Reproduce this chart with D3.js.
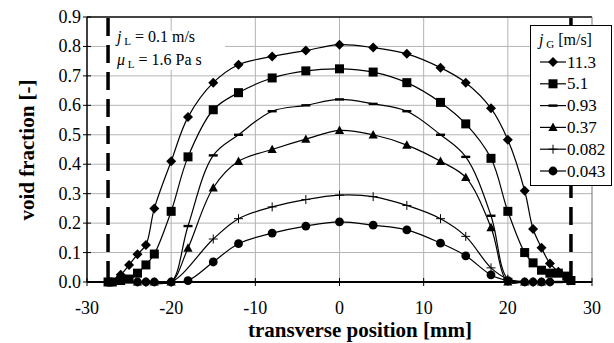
<!DOCTYPE html>
<html>
<head>
<meta charset="utf-8">
<script src="https://cdn.jsdelivr.net/npm/d3@7"></script>
<style>
  body { margin: 0; background: #fff; }
  svg text { font-family: "Liberation Serif", "Times New Roman", serif; fill: #000; }
</style>
</head>
<body>
<div id="chart"></div>
<script>
// gas superficial velocity series (legend labels)
var jG = ["11.3", "5.1", "0.93", "0.37", "0.082", "0.043"];

var posD = [-27.5, -26, -25, -24, -23, -22, -20, -18, -15, -12, -8, -4, 0, 4, 8, 12, 15, 18, 20, 22, 23, 24, 25, 26, 27.2];
var valD = [0, 0.025, 0.058, 0.094, 0.126, 0.25, 0.41, 0.56, 0.677, 0.738, 0.766, 0.786, 0.806, 0.796, 0.775, 0.728, 0.677, 0.59, 0.483, 0.31, 0.18, 0.116, 0.063, 0.035, 0.005];

var posS = [-27.5, -27, -26, -25, -24, -23, -22, -20, -18, -15, -12, -8, -4, 0, 4, 8, 12, 15, 18, 20, 22, 23, 24, 25, 26, 27, 27.5];
var valS = [0, 0, 0.005, 0.01, 0.03, 0.058, 0.095, 0.24, 0.425, 0.585, 0.643, 0.693, 0.717, 0.724, 0.713, 0.677, 0.61, 0.537, 0.42, 0.24, 0.10, 0.065, 0.04, 0.03, 0.03, 0.02, 0.005];

var posM = [-27, -25, -23, -22, -20, -18, -15, -12, -8, -4, 0, 4, 8, 12, 15, 18, 20, 22, 24, 26];
var valM = [0, 0, 0, 0, 0, 0.19, 0.43, 0.50, 0.58, 0.60, 0.62, 0.605, 0.58, 0.50, 0.425, 0.225, 0.01, 0, 0, 0];

var posT = [-24, -22, -20, -18, -15, -12, -8, -4, 0, 4, 8, 12, 15, 18, 20, 22, 24];
var valT = [0, 0, 0, 0.115, 0.32, 0.41, 0.45, 0.485, 0.515, 0.50, 0.465, 0.41, 0.355, 0.185, 0, 0, 0];

var posP = [-23, -20, -15, -12, -8, -4, 0, 4, 8, 12, 15, 18, 20, 23];
var valP = [0, 0, 0.146, 0.215, 0.255, 0.28, 0.295, 0.29, 0.26, 0.215, 0.155, 0.048, 0.01, 0];

var posC = [-24, -23, -22, -20, -18, -15, -12, -8, -4, 0, 4, 8, 12, 15, 18, 20, 22, 23, 24, 25];
var valC = [0, 0, 0, 0, 0.005, 0.068, 0.13, 0.166, 0.19, 0.204, 0.193, 0.177, 0.132, 0.089, 0.024, 0.005, 0, 0, 0, 0];

var xTicks = [-30, -20, -10, 0, 10, 20, 30];
var xTickLabels = ["-30", "-20", "-10", "0", "10", "20", "30"];
var yTicks = [0, 0.1, 0.2, 0.3, 0.4, 0.5, 0.6, 0.7, 0.8, 0.9];
var yTickLabels = ["0.0", "0.1", "0.2", "0.3", "0.4", "0.5", "0.6", "0.7", "0.8", "0.9"];
var wallPos = [-27.5, 27.5];

var W = 614, H = 343;
var svg = d3.select("#chart").append("svg")
    .attr("width", W)
    .attr("height", H)

var x = d3.scaleLinear().domain([-30, 30]).range([87, 592]);
var y = d3.scaleLinear().domain([0, 0.9]).range([282, 17]);

// grid
svg.selectAll(".hgrid")
    .data(yTicks.slice(1))
    .enter().append("line")
    .attr("x1", x(-30)).attr("x2", x(30))
    .attr("y1", d => y(d)).attr("y2", d => y(d))
    .style("stroke", "#b4b4b4").style("stroke-width", 1)

svg.selectAll(".vgrid")
    .data(xTicks.slice(1, -1))
    .enter().append("line")
    .attr("x1", d => x(d)).attr("x2", d => x(d))
    .attr("y1", y(0)).attr("y2", y(0.9))
    .style("stroke", "#b4b4b4").style("stroke-width", 1)

// frame top / right
svg.append("line").attr("x1", x(-30)).attr("x2", x(30)).attr("y1", y(0.9)).attr("y2", y(0.9))
    .style("stroke", "#444").style("stroke-width", 2)
svg.append("line").attr("x1", x(30)).attr("x2", x(30)).attr("y1", y(0.9)).attr("y2", y(0))
    .style("stroke", "#777").style("stroke-width", 1)

// white box behind the annotation
svg.append("rect").attr("x", x(-27.5) + 2).attr("y", 31).attr("width", 115).attr("height", 39)
    .style("fill", "#fff")

// pipe walls
svg.selectAll(".wall")
    .data(wallPos)
    .enter().append("line")
    .attr("x1", d => x(d)).attr("x2", d => x(d))
    .attr("y1", y(0.9) + 1).attr("y2", y(0))
    .style("stroke", "#000").style("stroke-width", 3.5)
    .style("stroke-dasharray", "18,9")

// tick labels
svg.selectAll(".xl").data(xTicks).enter().append("text")
    .attr("x", d => x(d)).attr("y", y(0) + 32)
    .attr("text-anchor", "middle")
    .style("font-size", "18px")
    .text((d, i) => xTickLabels[i])

svg.selectAll(".yl").data(yTicks).enter().append("text")
    .attr("x", x(-30) - 6).attr("y", d => y(d) + 6)
    .attr("text-anchor", "end")
    .style("font-size", "18px")
    .text((d, i) => yTickLabels[i])

// crossing ticks
svg.selectAll(".xt").data(xTicks).enter().append("line")
    .attr("x1", d => x(d)).attr("x2", d => x(d))
    .attr("y1", y(0) - 4).attr("y2", y(0) + 4)
    .style("stroke", "#000").style("stroke-width", 1)
svg.selectAll(".yt").data(yTicks).enter().append("line")
    .attr("x1", x(-30) - 4).attr("x2", x(-30) + 4)
    .attr("y1", d => y(d)).attr("y2", d => y(d))
    .style("stroke", "#000").style("stroke-width", 1)

svg.append("line").attr("x1", x(-30)).attr("x2", x(-30)).attr("y1", y(0.9)).attr("y2", y(0))
    .style("stroke", "#000").style("stroke-width", 1.5)

// markers
function marker(g, type) {
    if (type === "diamond") {
        g.append("path").attr("d", "M0,-5L5,0L0,5L-5,0Z").style("fill", "#000")
    } else if (type === "square") {
        g.append("rect").attr("x", -4.5).attr("y", -4.5).attr("width", 9).attr("height", 9).style("fill", "#000")
    } else if (type === "dash") {
        g.append("rect").attr("x", -4.5).attr("y", -1.2).attr("width", 9).attr("height", 2.4).style("fill", "#000")
    } else if (type === "triangle") {
        g.append("path").attr("d", "M0,-4.8L4.6,3.6L-4.6,3.6Z").style("fill", "#000")
    } else if (type === "plus") {
        g.append("path").attr("d", "M-4.5,0H4.5M0,-4.5V4.5").style("stroke", "#000").style("stroke-width", 1).style("fill", "none")
    } else {
        g.append("circle").attr("r", 4.4).style("fill", "#000")
    }
}

var series = [
    { name: jG[0], m: "diamond", xs: posD, vs: valD },
    { name: jG[1], m: "square", xs: posS, vs: valS },
    { name: jG[2], m: "dash", xs: posM, vs: valM },
    { name: jG[3], m: "triangle", xs: posT, vs: valT },
    { name: jG[4], m: "plus", xs: posP, vs: valP },
    { name: jG[5], m: "circle", xs: posC, vs: valC }
];

var line = d3.line()
    .x(d => x(d[0]))
    .y(d => y(d[1]))
    .curve(d3.curveCatmullRom.alpha(0.5));

series.forEach(function (s) {
    var pts = s.xs.map((v, i) => [v, s.vs[i]]);
    svg.append("path")
        .datum(pts)
        .attr("d", line)
        .style("fill", "none")
        .style("stroke", "#000")
        .style("stroke-width", 1.2)
    pts.forEach(function (p) {
        var g = svg.append("g").attr("transform", "translate(" + x(p[0]) + "," + y(p[1]) + ")");
        marker(g, s.m);
    })
});

// x axis line on top of markers
svg.append("line").attr("x1", x(-30)).attr("x2", x(30)).attr("y1", y(0)).attr("y2", y(0))
    .style("stroke", "#000").style("stroke-width", 2)

// annotation
var ann = svg.append("text").attr("x", 117).attr("y", 42).style("font-size", "16px");
ann.append("tspan").style("font-style", "italic").text("j");
ann.append("tspan").attr("dy", 3).style("font-size", "11px").text(" L");
ann.append("tspan").attr("dy", -3).text(" = 0.1 m/s");
var ann2 = svg.append("text").attr("x", 117).attr("y", 65).style("font-size", "16px");
ann2.append("tspan").style("font-style", "italic").text("μ");
ann2.append("tspan").attr("dy", 3).style("font-size", "11px").text(" L");
ann2.append("tspan").attr("dy", -3).text(" = 1.6 Pa s");

// legend
var lg = svg.append("g");
lg.append("rect").attr("x", 530.5).attr("y", 25.5).attr("width", 81).attr("height", 160)
    .style("fill", "#fff").style("stroke", "#000").style("stroke-width", 1)
var lt = lg.append("text").attr("x", 539).attr("y", 45).style("font-size", "16px");
lt.append("tspan").style("font-style", "italic").text("j");
lt.append("tspan").attr("dy", 3).style("font-size", "11px").text(" G");
lt.append("tspan").attr("dy", -3).text(" [m/s]");

series.forEach(function (s, i) {
    var ly = 62 + i * 21.8;
    lg.append("line").attr("x1", 540).attr("x2", 566).attr("y1", ly).attr("y2", ly)
        .style("stroke", "#000").style("stroke-width", 1.2)
    var g = lg.append("g").attr("transform", "translate(553," + ly + ")");
    marker(g, s.m);
    lg.append("text").attr("x", 567).attr("y", ly + 5.5).style("font-size", "17px").text(s.name)
});

// axis titles
svg.append("text")
    .attr("x", 360).attr("y", 337)
    .attr("text-anchor", "middle")
    .style("font-size", "21px").style("font-weight", "bold")
    .text("transverse position [mm]")

svg.append("text")
    .attr("transform", "translate(34,150) rotate(-90)")
    .attr("text-anchor", "middle")
    .style("font-size", "21px").style("font-weight", "bold")
    .text("void fraction [-]")
</script>
</body>
</html>
